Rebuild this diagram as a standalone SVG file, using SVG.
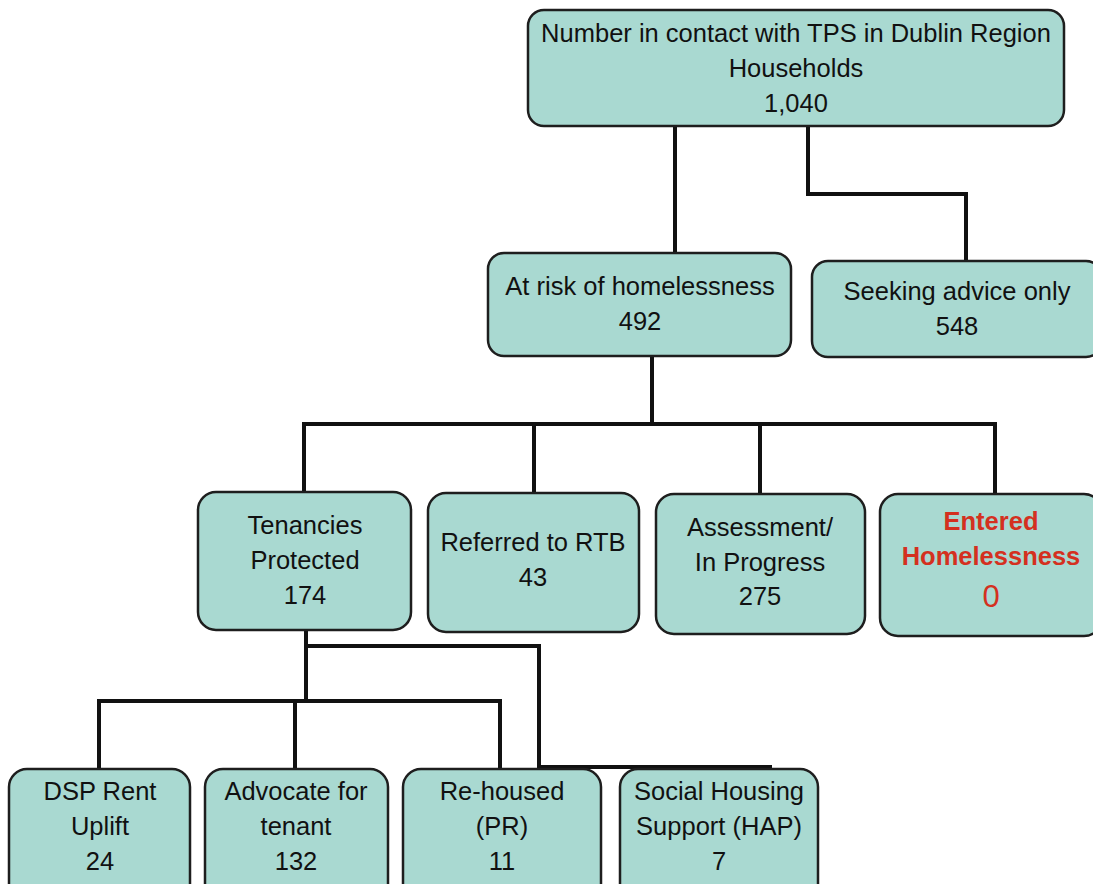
<svg xmlns="http://www.w3.org/2000/svg" width="1093" height="884" viewBox="0 0 1093 884">
<style>
.box{fill:#a9d9d1;stroke:#1e1e1e;stroke-width:2.5}
.t{font-family:"Liberation Sans",Arial,sans-serif;font-size:25.5px;fill:#111;text-anchor:middle}
.red{fill:#d4301f;font-weight:bold}
.con{fill:none;stroke:#111;stroke-width:4;stroke-linejoin:miter;stroke-linecap:square}
</style>
<rect width="1093" height="884" fill="#ffffff"/>
<g id="connectors">
<path class="con" d="M675 126 V254"/>
<path class="con" d="M808 126 V194 H966 V262"/>
<path class="con" d="M652 356 V424"/>
<path class="con" d="M304 493 V424 H995 V494"/>
<path class="con" d="M534 424 V493"/>
<path class="con" d="M760 424 V494"/>
<path class="con" d="M306 630 V701"/>
<path class="con" d="M306 646 H539 V767 H770"/>
<path class="con" d="M99 769 V701 H500 V769"/>
<path class="con" d="M295 701 V769"/>
</g>
<g id="n_top"><rect class="box" x="528" y="10" width="536" height="116" rx="16"/>
<text class="t" x="796" y="42">Number in contact with TPS in Dublin Region</text>
<text class="t" x="796" y="77">Households</text>
<text class="t" x="796" y="112">1,040</text></g>
<g id="n_risk"><rect class="box" x="488" y="253" width="303" height="103" rx="16"/>
<text class="t" x="640" y="295">At risk of homelessness</text>
<text class="t" x="640" y="330">492</text></g>
<g id="n_seek"><rect class="box" x="812" y="261" width="290" height="96" rx="16"/>
<text class="t" x="957" y="300">Seeking advice only</text>
<text class="t" x="957" y="335">548</text></g>
<g id="n_ten"><rect class="box" x="198" y="492" width="213" height="138" rx="18"/>
<text class="t" x="305" y="534">Tenancies</text>
<text class="t" x="305" y="569">Protected</text>
<text class="t" x="305" y="604">174</text></g>
<g id="n_rtb"><rect class="box" x="428" y="493" width="211" height="139" rx="18"/>
<text class="t" x="533" y="551">Referred to RTB</text>
<text class="t" x="533" y="586">43</text></g>
<g id="n_assess"><rect class="box" x="656" y="494" width="209" height="140" rx="18"/>
<text class="t" x="760" y="536">Assessment/</text>
<text class="t" x="760" y="571">In Progress</text>
<text class="t" x="760" y="605">275</text></g>
<g id="n_entered"><rect class="box" x="880" y="494" width="222" height="142" rx="18"/>
<text class="t red" x="991" y="530">Entered</text>
<text class="t red" x="991" y="565">Homelessness</text>
<text class="t" x="991" y="607" style="fill:#d4301f;font-size:31px">0</text></g>
<g id="n_dsp"><rect class="box" x="9" y="769" width="181" height="140" rx="18"/>
<text class="t" x="100" y="800">DSP Rent</text>
<text class="t" x="100" y="835">Uplift</text>
<text class="t" x="100" y="870">24</text></g>
<g id="n_adv"><rect class="box" x="205" y="769" width="183" height="140" rx="18"/>
<text class="t" x="296" y="800">Advocate for</text>
<text class="t" x="296" y="835">tenant</text>
<text class="t" x="296" y="870">132</text></g>
<g id="n_rehoused"><rect class="box" x="403" y="769" width="198" height="140" rx="18"/>
<text class="t" x="502" y="800">Re-housed</text>
<text class="t" x="502" y="835">(PR)</text>
<text class="t" x="502" y="870">11</text></g>
<g id="n_social"><rect class="box" x="620" y="769" width="198" height="140" rx="18"/>
<text class="t" x="719" y="800">Social Housing</text>
<text class="t" x="719" y="835">Support (HAP)</text>
<text class="t" x="719" y="870">7</text></g>
</svg>
